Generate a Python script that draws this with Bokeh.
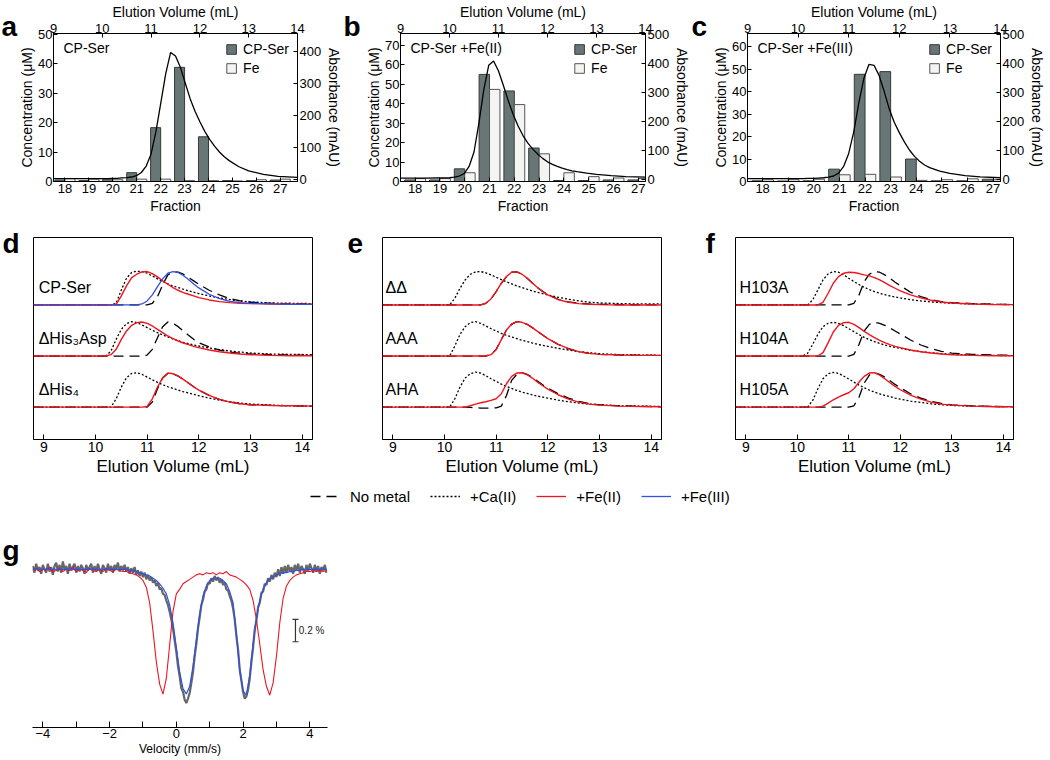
from bokeh.plotting import figure
from bokeh.models import Range1d, LinearAxis, FixedTicker, Label, Legend, LegendItem, ColumnDataSource
from bokeh.layouts import column, row
from bokeh.transform import dodge
from bokeh.embed import file_html
from bokeh.resources import INLINE

FONT = "Liberation Sans"

# ---------------- panels a-c : fractions ----------------
FRACTIONS = [18, 19, 20, 21, 22, 23, 24, 25, 26, 27]
A_CPSER = [0.5, 0.3, 0.8, 3.0, 18.3, 38.8, 15.2, 0.3, 0.3, 0.5]
A_FE = [1.0, 0.8, 0.6, 0.8, 0.8, 0.3, 0.3, 0.2, 0.6, 0.8]
B_CPSER = [0.8, 0.8, 6.5, 55.0, 46.5, 17.2, 0.5, 0.5, 0.8, 0.8]
B_FE = [1.5, 1.5, 4.5, 47.3, 39.5, 14.2, 4.5, 2.5, 1.8, 1.5]
C_CPSER = [0.3, 0.2, 0.3, 5.5, 47.8, 49.0, 10.0, 0.3, 0.3, 1.0]
C_FE = [0.8, 0.8, 1.0, 3.0, 3.2, 2.0, 0.5, 0.8, 1.2, 0.8]

VOL_ABS = [9.0, 9.5, 10.0, 10.1, 10.2, 10.3, 10.4, 10.5, 10.6, 10.7, 10.8, 10.9, 11.0, 11.1,
           11.2, 11.3, 11.4, 11.5, 11.6, 11.7, 11.8, 11.9, 12.0, 12.1, 12.2, 12.3, 12.4, 12.5,
           12.6, 12.8, 13.0, 13.3, 13.6, 14.0]
ABS_A = [3, 3, 3, 3, 4, 4, 5, 6, 8, 12, 22, 42, 80, 150, 240, 330, 396, 385, 350, 300, 252, 213,
         180, 150, 125, 104, 86, 71, 59, 40, 27, 16, 10, 7]
ABS_B = [5, 5, 6, 8, 12, 20, 45, 95, 195, 310, 395, 410, 375, 325, 272, 225, 185, 152, 126, 105,
         88, 73, 61, 52, 45, 39, 34, 30, 27, 22, 18, 13, 10, 8]
ABS_C = [3, 3, 3, 3, 4, 4, 5, 6, 8, 12, 22, 45, 90, 165, 265, 350, 398, 395, 360, 305, 245, 198,
         162, 130, 102, 80, 63, 50, 41, 29, 21, 13, 9, 6]

# ---------------- panels d-f : normalised SEC traces (peak ~100) ----------------
X_SEC = [8.8, 9.5, 10.0, 10.1, 10.2, 10.3, 10.4, 10.5, 10.6, 10.7, 10.8, 10.9, 11.0, 11.1, 11.2,
         11.3, 11.4, 11.5, 11.6, 11.7, 11.8, 11.9, 12.0, 12.2, 12.4, 12.6, 12.8, 13.0, 13.4, 13.8, 14.2]

D_CPSER_NONE = [0,0,0,0,0,0,0,0,0,0,0,0,0, 5,25,60,90,100,98,92,82,72,62, 44,30,19,12,8, 5,3,3]
D_CPSER_CA = [0,0,0,0,0,0, 5,45,80,97,101,100,95,87,78,70,63,57,52,47,42,38,34, 27,21,16,12,9, 6,5,4]
D_CPSER_FE2 = [0,0,0,0,0,0, 2,27,57,82,92,99,100,94,84,72,62,52,44,37,32,27,22, 15,10,7,5,4, 3,2,2]
D_CPSER_FE3 = [0,0,0,0,0,0,0,0,0,0,0, 3,12,30,55,78,95,100,97,88,76,63,51, 32,19,11,7,5, 3,2,2]
D_HIS3_NONE = [0,0,0,0,0,0,0,0,0,0,0,0, 3,20,55,88,102,98,88,75,62,50,40, 27,18,12,8,6, 4,3,3]
D_HIS3_CA = [0,0,0,0,0, 15,50,80,97,103,100,93,85,77,70,63,57,51,46,41,37,33,30, 24,19,15,12,9, 6,5,4]
D_HIS3_FE2 = [0,0,0,0,0, 4,20,50,75,92,100,102,98,90,80,70,60,52,45,39,34,29,25, 18,13,9,6,4, 2,1,1]
D_HIS4_NONE = [0,0,0,0,0,0,0,0,0,0,0,0,0, 15,55,87,101,100,93,83,72,61,51, 35,23,15,10,7, 5,4,3]
D_HIS4_CA = [0,0,0,0,0,0, 25,60,88,101,103,98,90,82,74,67,61,56,51,46,42,38,34, 27,21,16,12,9, 6,4,3]
D_HIS4_FE2 = [0,0,0,0,0,0,0,0,0,0,0,0, 2,25,60,88,102,100,93,83,72,61,51, 35,23,15,10,7, 5,4,3]

E_DD_NONE = [0,0,0,0,0,0,0,0,0,0, 5,18,40,65,85,98,99,92,80,66,52,41,31, 17,9,5,3,2, 1,0,0]
E_DD_CA = [0,0,0,0, 20,50,75,92,99,100,96,90,83,76,69,63,57,52,47,42,38,34,30, 23,17,12,8,6, 4,3,3]
E_DD_FE2 = [0,0,0,0,0,0,0,0,0,0, 5,18,40,65,85,98,99,92,80,66,52,40,30, 16,8,4,2,1, 0,0,0]
E_AAA_NONE = [0,0,0,0,0,0,0,0,0,0,0, 5,20,50,78,95,103,101,95,85,74,63,52, 35,22,13,8,5, 3,2,2]
E_AAA_CA = [0,0,0,0, 30,65,88,100,103,98,90,82,75,68,62,57,52,47,43,39,35,32,29, 23,18,13,10,7, 4,3,2]
E_AAA_FE2 = [0,0,0,0,0,0,0,0,0,0,0, 4,19,49,78,96,103,101,95,85,74,63,52, 35,22,13,8,5, 3,2,2]
E_AHA_NONE = [0,0,0,0,0,0,0,-1,-2,-3,-3,-3,-2, 3,35,80,98,103,98,89,78,67,57, 40,27,17,11,7, 4,2,1]
E_AHA_CA = [0,0,0,0, 25,60,87,100,105,102,94,85,77,69,62,56,50,45,41,37,33,30,27, 21,16,12,9,7, 4,3,2]
E_AHA_FE2 = [0,0,0,0,0,0,0, 4,9,13,16,20,25,40,70,92,102,103,97,87,75,64,54, 37,24,15,9,6, 3,2,1]

F_103_NONE = [0,0,0,0,0,0,0,0,0,0,0,0,0, 5,30,70,92,100,98,90,80,68,58, 38,25,16,10,7, 4,2,1]
F_103_CA = [0,0,0,0,0, 15,45,75,93,100,98,90,80,70,61,53,46,40,35,31,27,24,21, 16,12,9,7,5, 3,2,1]
F_103_FE2 = [0,0,0,0,0,0,0, 8,35,65,85,95,98,97,94,90,87,82,75,67,58,50,42, 30,21,14,9,6, 3,1,1]
F_104_NONE = [0,0,0,0,0,0,0,0,0,0,0,0,0, 5,35,75,95,101,98,92,84,75,66, 48,33,22,14,9, 5,3,2]
F_104_CA = [0,0,0,0, 8,35,65,88,98,101,98,91,82,73,64,56,49,43,38,33,29,26,23, 17,13,10,7,5, 3,2,1]
F_104_FE2 = [0,0,0,0,0,0,0, 10,40,72,92,100,101,95,85,74,64,55,47,40,34,29,25, 18,13,9,6,4, 2,1,1]
F_105_NONE = [0,0,0,0,0,0,0,0,0,0,0,0,0, 4,30,72,96,103,98,90,79,68,58, 40,27,17,11,7, 4,2,1]
F_105_CA = [0,0,0,0,0, 20,55,85,100,104,101,93,84,75,66,58,51,45,40,35,31,27,24, 18,14,10,7,5, 3,2,1]
F_105_FE2 = [0,0,0,0,0,0,0, 3,12,22,30,37,43,55,75,92,102,103,96,85,73,62,52, 36,24,15,9,6, 3,1,1]

D_NAMES = ["CP-Ser", "\u0394His\u2083Asp", "\u0394His\u2084"]
E_NAMES = ["\u0394\u0394", "AAA", "AHA"]
F_NAMES = ["H103A", "H104A", "H105A"]
LEGEND_LABELS = ["No metal", "+Ca(II)", "+Fe(II)", "+Fe(III)"]

# ---------------- panel g : Mossbauer (transmission %) ----------------
VEL = [round(-4.3 + 0.1 * i, 2) for i in range(89)]
RED_FE2 = [99.99, 100.01, 99.98, 100.00, 99.99, 100.02, 99.98, 99.99, 100.01, 99.98,
           100.00, 99.99, 100.02, 99.98, 100.00, 99.99, 99.97, 100.01, 99.99, 99.98,
           100.00, 99.98, 100.01, 99.99, 99.98, 100.00, 99.99, 99.98,
           99.98, 99.97, 99.96, 99.95, 99.93, 99.90, 99.84, 99.70, 99.45, 99.17, 98.97, 98.88, 99.02, 99.32, 99.62,
           99.78, 99.82, 99.87, 99.89, 99.91, 99.93, 99.95, 99.96, 99.95, 99.97,
           99.96, 99.97, 99.95, 99.97, 99.96, 99.98, 99.95, 99.94, 99.93, 99.91,
           99.89, 99.86, 99.82, 99.72, 99.55, 99.33, 99.10, 98.95, 98.87, 98.98,
           99.22, 99.52, 99.74, 99.85, 99.90, 99.93, 99.95, 99.96, 99.97, 99.98,
           99.98, 99.99, 99.98, 99.99, 99.98, 99.99]
BLUE_FIT = [100.0] * 29 + [
    99.99, 99.99, 99.98, 99.97, 99.96, 99.95, 99.94, 99.92, 99.90, 99.87, 99.83, 99.78, 99.68, 99.52,
    99.30, 99.08, 98.93, 98.88, 98.95, 99.13, 99.37, 99.60, 99.76, 99.85,
    99.90, 99.92, 99.92, 99.92, 99.90, 99.87, 99.80, 99.70, 99.42, 99.10,
    98.91, 98.87, 99.05, 99.33, 99.56, 99.72, 99.82, 99.88, 99.91, 99.93,
    99.95, 99.96, 99.97, 99.97, 99.98, 99.98, 99.99, 99.99, 100.0, 100.0,
    100.0, 100.0, 100.0, 100.0, 100.0, 100.0]
VEL_DATA = [round(-4.3 + 0.05 * i, 2) for i in range(177)]
GRAY_DATA = [
    100.03, 99.97, 100.05, 99.99, 100.02, 99.96, 100.04, 100.00, 99.97, 100.05,
    99.98, 100.02, 99.95, 100.03, 100.06, 99.98, 100.04, 99.97, 100.07, 100.00,
    100.03, 99.96, 100.05, 99.99, 100.02, 100.05, 99.97, 100.03, 99.98, 100.04,
    100.01, 99.96, 100.04, 99.99, 100.02, 100.05, 99.97, 100.03, 99.98, 100.05,
    100.00, 99.96, 100.04, 100.01, 99.97, 100.05, 99.99, 100.03, 99.97, 100.04,
    100.00, 100.06, 99.98, 100.03, 99.99, 100.04, 99.98, 100.02, 99.96, 100.01,
    99.97, 100.02, 99.95, 99.99, 99.94, 99.98, 99.93, 99.97, 99.91, 99.95,
    99.90, 99.93, 99.88, 99.90, 99.85, 99.88, 99.82, 99.83, 99.78, 99.77,
    99.72, 99.68, 99.62, 99.55, 99.47, 99.36, 99.26, 99.13, 99.04, 98.93,
    98.90, 98.83, 98.80, 98.84, 98.89, 98.98, 99.08, 99.22, 99.33, 99.47,
    99.57, 99.68, 99.73, 99.80, 99.82, 99.88, 99.87, 99.92, 99.89, 99.94,
    99.90, 99.93, 99.88, 99.91, 99.86, 99.88, 99.82, 99.81, 99.76, 99.72,
    99.65, 99.55, 99.40, 99.28, 99.10, 99.00, 98.90, 98.84, 98.86, 98.92,
    99.02, 99.17, 99.30, 99.46, 99.54, 99.66, 99.70, 99.79, 99.80, 99.87,
    99.86, 99.92, 99.89, 99.95, 99.91, 99.97, 99.93, 100.00, 99.94, 100.02,
    99.96, 100.03, 99.97, 100.04, 99.98, 100.02, 99.96, 100.04, 99.99, 100.05,
    99.97, 100.03, 100.00, 99.96, 100.04, 99.98, 100.05, 100.01, 99.97, 100.04,
    99.98, 100.03, 99.96, 100.02, 99.99, 100.04, 99.97]
SCALE_BAR = [99.35, 99.55]   # 0.2 % transmission

GRAY = "#687675"
RED = "#f0141e"
BLUE = "#3050e6"


def style_axis(ax, tick_size="13px", label_size="14px"):
    ax.major_label_text_font = FONT
    ax.major_label_text_font_size = tick_size
    ax.major_label_text_color = "black"
    ax.axis_label_text_font = FONT
    ax.axis_label_text_font_size = label_size
    ax.axis_label_text_font_style = "normal"
    ax.axis_label_text_color = "black"
    ax.major_tick_in = 4
    ax.major_tick_out = 0
    ax.minor_tick_line_color = None
    ax.major_label_standoff = 2
    ax.axis_label_standoff = 2
    ax.axis_line_color = "black"
    ax.major_tick_line_color = "black"


def letter(p, txt, side, x, y):
    # panel letter placed in a side panel (not clipped to the frame)
    p.add_layout(Label(x=x, y=y, x_units="screen", y_units="screen", text=txt,
                       text_font=FONT, text_font_size="28px", text_font_style="bold",
                       text_baseline="alphabetic", text_color="black"), side)


BH, BMT, BMB = 217, 33, 36
BFH = BH - BMT - BMB


def bar_panel(title, cp, fe, absorb, x_rng, y_max, y_ticks, abs_rng, abs_ticks, W, ml, mr):
    p = figure(width=W, height=BH, x_range=Range1d(*x_rng), y_range=Range1d(0, y_max),
               output_backend="svg", toolbar_location=None,
               min_border_left=ml, min_border_right=mr, min_border_top=BMT, min_border_bottom=BMB)
    p.extra_x_ranges = {"vol": Range1d(9, 14)}
    p.extra_y_ranges = {"abs": Range1d(*abs_rng)}
    p.xgrid.grid_line_color = None
    p.ygrid.grid_line_color = None
    p.outline_line_color = "black"
    p.outline_line_alpha = 1
    src = ColumnDataSource(dict(frac=FRACTIONS, cp=cp, fe=fe))
    r1 = p.vbar(x=dodge("frac", -0.21), top="cp", width=0.42, source=src,
                fill_color=GRAY, line_color="#343b3a", line_width=1)
    r2 = p.vbar(x=dodge("frac", 0.21), top="fe", width=0.42, source=src,
                fill_color="#f3f5f3", line_color="#555555", line_width=1)
    p.line(VOL_ABS, absorb, x_range_name="vol", y_range_name="abs", line_color="black", line_width=1.3)
    top = LinearAxis(x_range_name="vol", axis_label="Elution Volume (mL)",
                     ticker=FixedTicker(ticks=[9, 10, 11, 12, 13, 14]))
    right = LinearAxis(y_range_name="abs", axis_label="Absorbance (mAU)",
                       ticker=FixedTicker(ticks=abs_ticks))
    p.add_layout(top, "above")
    p.add_layout(right, "right")
    p.below[0].ticker = FixedTicker(ticks=FRACTIONS)
    p.below[0].axis_label = "Fraction"
    p.left[0].ticker = FixedTicker(ticks=y_ticks)
    p.left[0].axis_label = "Concentration (\u03bcM)"
    for ax in [p.below[0], p.left[0], top, right]:
        style_axis(ax)
    top.major_label_standoff = 1
    top.axis_label_standoff = 1
    p.left[0].major_label_standoff = 1
    p.left[0].axis_label_standoff = 0
    leg = Legend(items=[LegendItem(label="CP-Ser", renderers=[r1]), LegendItem(label="Fe", renderers=[r2])],
                 location="top_right", glyph_width=12, glyph_height=12, label_height=14,
                 label_text_font=FONT, label_text_font_size="14px", label_text_color="black",
                 label_standoff=6, spacing=3, padding=2, margin=6,
                 background_fill_alpha=0, border_line_alpha=0)
    p.add_layout(leg)
    p.add_layout(Label(x=10, y=BFH - 14, x_units="screen", y_units="screen", text=title,
                       text_font=FONT, text_font_size="14px", text_baseline="middle",
                       text_color="black"))
    return p


OFFSETS = [306, 153, 0]
STYLES = {
    "none": dict(line_color="black", line_dash="10 6", line_width=1.3),
    "ca": dict(line_color="black", line_dash="2 2", line_width=1.3),
    "fe2": dict(line_color=RED, line_width=1.4),
    "fe3": dict(line_color=BLUE, line_width=1.3),
}
SH, SMT, SMB = 262, 20, 40
SFH = SH - SMT - SMB


def sec_panel(names, traces, W, ml, mr, name_x):
    p = figure(width=W, height=SH, x_range=Range1d(8.8, 14.2), y_range=Range1d(-97, 508),
               output_backend="svg", toolbar_location=None, y_axis_location=None,
               min_border_left=ml, min_border_right=mr, min_border_top=SMT, min_border_bottom=SMB)
    p.xgrid.grid_line_color = None
    p.ygrid.grid_line_color = None
    p.outline_line_color = "black"
    ax = p.below[0]
    ax.ticker = FixedTicker(ticks=[9, 10, 11, 12, 13, 14])
    ax.axis_label = "Elution Volume (mL)"
    style_axis(ax, "14px", "17px")
    ax.major_tick_in = 5
    for k, (nm, tr) in enumerate(zip(names, traces)):
        off = OFFSETS[k]
        for key in ["none", "ca", "fe2", "fe3"]:
            if key in tr:
                vals = tr[key]
                n = min(len(X_SEC), len(vals))
                p.line(X_SEC[:n], [v + off for v in vals[:n]], **STYLES[key])
        p.add_layout(Label(x=name_x, y=off + 53, text=nm, text_font=FONT, text_font_size="16px",
                           text_baseline="middle", text_color="black"))
    return p


pa = bar_panel("CP-Ser", A_CPSER, A_FE, ABS_A, (17.52, 27.72), 50.3, [0, 10, 20, 30, 40, 50],
               (-6, 455), [0, 100, 200, 300, 400], 362, 48, 59)
pb = bar_panel("CP-Ser +Fe(II)", B_CPSER, B_FE, ABS_B, (17.41, 27.29), 76, [0, 10, 20, 30, 40, 50, 60, 70],
               (-7, 505), [0, 100, 200, 300, 400, 500], 347, 38, 57)
pc = bar_panel("CP-Ser +Fe(III)", C_CPSER, C_FE, ABS_C, (17.41, 27.29), 66, [0, 10, 20, 30, 40, 50, 60],
               (-7, 505), [0, 100, 200, 300, 400, 500], 339, 38, 46)
letter(pa, "a", "left", 1, BFH + 7)
letter(pa, "b", "right", -2, BFH + 7)
letter(pb, "c", "right", -2, BFH + 7)

pd = sec_panel(D_NAMES, [
    dict(none=D_CPSER_NONE, ca=D_CPSER_CA, fe2=D_CPSER_FE2, fe3=D_CPSER_FE3),
    dict(none=D_HIS3_NONE, ca=D_HIS3_CA, fe2=D_HIS3_FE2),
    dict(none=D_HIS4_NONE, ca=D_HIS4_CA, fe2=D_HIS4_FE2)], 348, 33, 36, 8.9)
pe = sec_panel(E_NAMES, [
    dict(none=E_DD_NONE, ca=E_DD_CA, fe2=E_DD_FE2),
    dict(none=E_AAA_NONE, ca=E_AAA_CA, fe2=E_AAA_FE2),
    dict(none=E_AHA_NONE, ca=E_AHA_CA, fe2=E_AHA_FE2)], 352, 34, 39, 8.86)
pf = sec_panel(F_NAMES, [
    dict(none=F_103_NONE, ca=F_103_CA, fe2=F_103_FE2),
    dict(none=F_104_NONE, ca=F_104_CA, fe2=F_104_FE2),
    dict(none=F_105_NONE, ca=F_105_CA, fe2=F_105_FE2)], 348, 35, 35, 8.88)
letter(pd, "d", "left", -14, SFH - 6)
letter(pe, "e", "left", -19, SFH - 6)
letter(pf, "f", "left", -21, SFH - 6)

# legend strip: proxy renderers use panel-d data, kept outside the visible y range
lf = figure(width=1048, height=36, x_range=Range1d(0, 1), y_range=Range1d(-1000, -999),
            x_axis_location=None, y_axis_location=None, output_backend="svg",
            toolbar_location=None, min_border=0)
lf.outline_line_color = None
lf.xgrid.grid_line_color = None
lf.ygrid.grid_line_color = None
proxies = [lf.line(X_SEC, D_CPSER_NONE, **STYLES["none"]),
           lf.line(X_SEC, D_CPSER_CA, **STYLES["ca"]),
           lf.line(X_SEC, D_CPSER_FE2, line_color=RED, line_width=1.3),
           lf.line(X_SEC, D_CPSER_FE3, line_color=BLUE, line_width=1.3)]
lf.add_layout(Legend(items=[LegendItem(label=t, renderers=[r]) for t, r in zip(LEGEND_LABELS, proxies)],
                     orientation="horizontal", location=(278, 10), glyph_width=30, glyph_height=18,
                     label_standoff=10, spacing=20, padding=0, margin=0,
                     label_text_font=FONT, label_text_font_size="15px", label_text_color="black",
                     border_line_alpha=0, background_fill_alpha=0))

# panel g
GH, GMT, GMB = 243, 36, 30
GFH = GH - GMT - GMB
pg = figure(width=340, height=GH, x_range=Range1d(-4.31, 4.53), y_range=Range1d(98.58, 100.16),
            output_backend="svg", toolbar_location=None, y_axis_location=None,
            min_border_left=32, min_border_right=13, min_border_top=GMT, min_border_bottom=GMB)
pg.outline_line_color = None
pg.xgrid.grid_line_color = None
pg.ygrid.grid_line_color = None
n = min(len(VEL_DATA), len(GRAY_DATA))
pg.line(VEL_DATA[:n], GRAY_DATA[:n], line_color="#666666", line_width=2.2)
n = min(len(VEL), len(RED_FE2))
pg.line(VEL[:n], RED_FE2[:n], line_color=RED, line_width=1.1)
n = min(len(VEL), len(BLUE_FIT))
pg.line(VEL[:n], BLUE_FIT[:n], line_color=BLUE, line_width=1.2)
pg.segment(x0=[3.57], y0=[SCALE_BAR[0]], x1=[3.57], y1=[SCALE_BAR[1]], line_color="#333333", line_width=1.2)
pg.scatter(x=[3.57, 3.57], y=SCALE_BAR, marker="dash", size=6, line_color="#333333", line_width=1.2)
pg.add_layout(Label(x=3.67, y=(SCALE_BAR[0] + SCALE_BAR[1]) / 2, text="0.2 %", text_font=FONT,
                    text_font_size="10px", text_baseline="middle", text_color="#222222"))
gax = pg.below[0]
gax.ticker = FixedTicker(ticks=[-4, -2, 0, 2, 4], minor_ticks=[-3, -1, 1, 3])
gax.axis_label = "Velocity (mm/s)"
style_axis(gax, "13px", "12px")
gax.major_tick_in = 6
gax.minor_tick_in = 6
gax.minor_tick_out = 0
gax.minor_tick_line_color = "black"
gax.axis_label_standoff = 1
gax.major_label_standoff = 1
letter(pg, "g", "left", -13, GFH)

layout = column(row(pa, pb, pc), row(pd, pe, pf), lf, pg)
open("out.html", "w").write(file_html(layout, INLINE))
